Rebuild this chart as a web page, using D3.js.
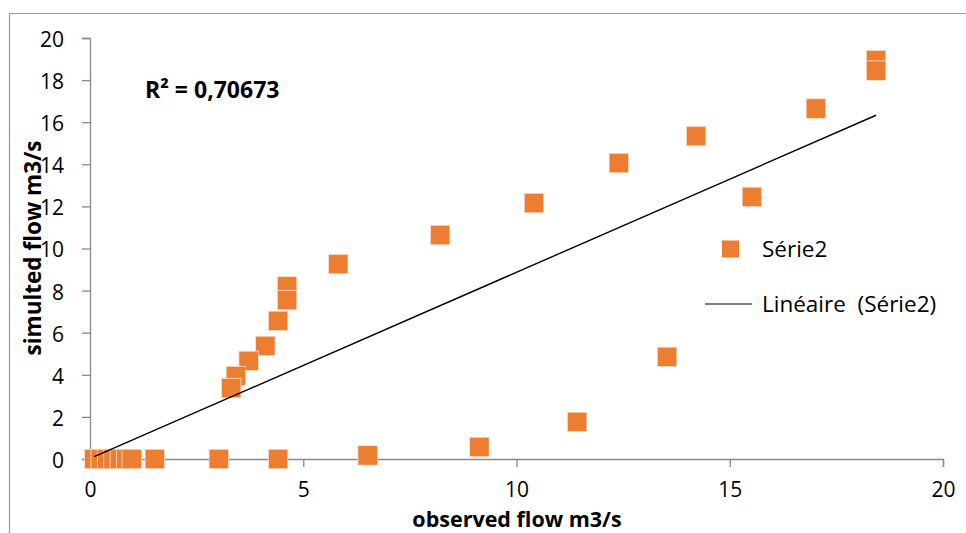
<!DOCTYPE html>
<html>
<head>
<meta charset="utf-8">
<script src="https://cdn.jsdelivr.net/npm/d3@7"></script>
<style>
  html, body { margin: 0; padding: 0; background: #fff; }
  svg text { font-family: "Open Sans", Lato, "Liberation Sans", sans-serif; fill: #000; }
</style>
</head>
<body>
<svg id="chart" width="966" height="533"></svg>
<script>
// Observed vs simulated flow (m3/s)
const observedFlow = [0.1, 0.25, 0.4, 0.55, 0.7, 0.85, 0.98, 1.52, 3.02, 4.41, 6.51, 9.13, 11.42, 13.53,
  15.52, 17.02, 14.21, 12.4, 10.41, 8.21, 5.82, 4.62, 4.62, 4.41, 4.11, 3.72, 3.42, 3.31, 18.43, 18.43];
const simulatedFlow = [0, 0, 0, 0, 0, 0, 0, 0, 0, 0, 0.17, 0.57, 1.76, 4.85,
  12.45, 16.65, 15.34, 14.06, 12.16, 10.64, 9.26, 8.2, 7.55, 6.56, 5.37, 4.66, 3.94, 3.37, 18.95, 18.45];
// linear trendline coefficients (y = slope * x + intercept)
const trendSlope = 0.885;
const trendIntercept = 0.02;
const xTicks = [0, 5, 10, 15, 20];
const yTicks = [0, 2, 4, 6, 8, 10, 12, 14, 16, 18, 20];
const seriesName = "Série2";
const trendName = "Linéaire  (Série2)";
const r2Label = "R² = 0,70673";

const svg = d3.select("#chart");
const W = 966, H = 533;
const margin = { left: 90, right: 23, top: 38, bottom: 74 };

const x = d3.scaleLinear().domain([0, 20]).range([margin.left, W - margin.right]);
const y = d3.scaleLinear().domain([0, 20]).range([H - margin.bottom, margin.top]);

const axisColor = "#898989";
const orange = "#ED7D31";

// chart area frame (top and left edges)
svg.append("path")
  .attr("d", `M9.5,${H} V13.5 H${W}`)
  .attr("fill", "none").attr("stroke", "#9a9a9a").attr("stroke-width", 1.2);

// axes
const xAxis = svg.append("g")
  .attr("transform", `translate(0,${y(0)})`)
  .call(d3.axisBottom(x).tickValues(xTicks).tickSize(8).tickPadding(15).tickFormat(d3.format("d")));
const yAxis = svg.append("g")
  .attr("transform", `translate(${x(0)},0)`)
  .call(d3.axisLeft(y).tickValues(yTicks).tickSize(8).tickPadding(18).tickFormat(d3.format("d")));

[xAxis, yAxis].forEach(g => {
  g.select(".domain").attr("stroke", axisColor).attr("stroke-width", 1.3);
  g.selectAll(".tick line").attr("stroke", axisColor).attr("stroke-width", 1.3);
  g.selectAll(".tick text").attr("font-size", 21).style("font-family", "'Open Sans', Lato, sans-serif");
});
yAxis.selectAll(".tick text").attr("dy", "0.4em");

// axis titles
svg.append("text")
  .attr("x", 517).attr("y", 526.5)
  .attr("text-anchor", "middle")
  .attr("font-size", 21.5).attr("font-weight", "bold")
  .text("observed flow m3/s");
svg.append("text")
  .attr("transform", `translate(41,248) rotate(-90)`)
  .attr("text-anchor", "middle")
  .attr("font-size", 22.5).attr("font-weight", "bold")
  .text("simulted flow m3/s");

const pts = observedFlow.map((v, i) => [v, simulatedFlow[i]]);
const [x0, x1] = d3.extent(observedFlow);

// markers
const size = 19.5;
svg.append("g").selectAll("rect")
  .data(pts)
  .join("rect")
  .attr("x", d => x(d[0]) - size / 2)
  .attr("y", d => y(d[1]) - size / 2)
  .attr("width", size).attr("height", size)
  .attr("fill", orange)
  .attr("stroke", "#fbe3d4").attr("stroke-width", 0.8);

// trendline over the observed range
svg.append("line")
  .attr("x1", x(x0)).attr("y1", y(trendIntercept + trendSlope * x0))
  .attr("x2", x(x1)).attr("y2", y(trendIntercept + trendSlope * x1))
  .attr("stroke", "#000").attr("stroke-width", 1.4);

// R² annotation
svg.append("text")
  .attr("x", 145).attr("y", 98)
  .attr("font-size", 23).attr("font-weight", "bold")
  .text(r2Label);

// legend
const lg = svg.append("g");
lg.append("rect").attr("x", 722).attr("y", 240.5).attr("width", 17).attr("height", 17).attr("fill", orange);
lg.append("text").attr("x", 762).attr("y", 257).attr("font-size", 22.5).text(seriesName);
lg.append("line").attr("x1", 705).attr("x2", 752).attr("y1", 304).attr("y2", 304)
  .attr("stroke", "#000").attr("stroke-width", 1.2);
lg.append("text").attr("x", 762).attr("y", 312).attr("font-size", 22.5).attr("xml:space", "preserve").text(trendName);
</script>
</body>
</html>
